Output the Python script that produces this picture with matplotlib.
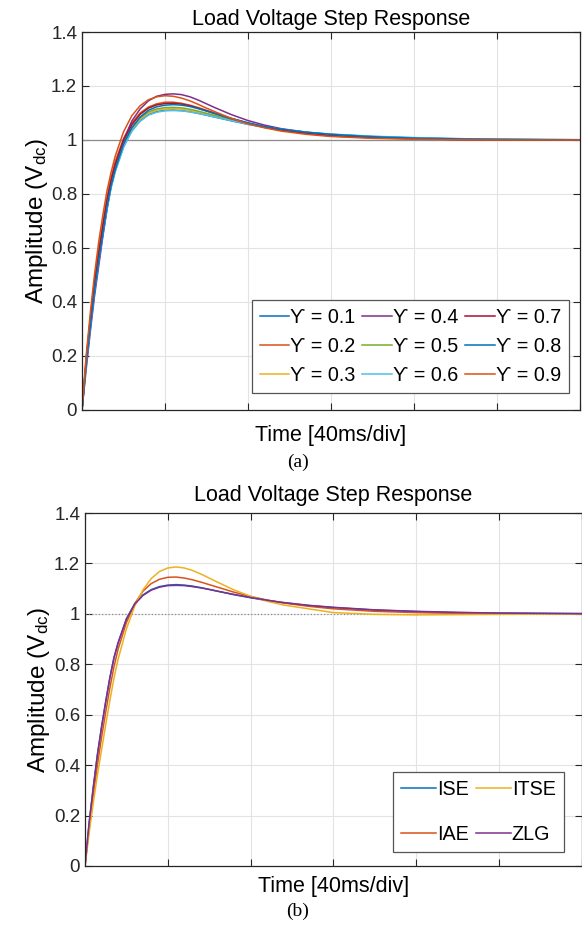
import numpy as np
import matplotlib
matplotlib.use("Agg")
import matplotlib.pyplot as plt

plt.rcParams['font.family'] = ['Liberation Sans', 'DejaVu Sans']
plt.rcParams['mathtext.fontset'] = 'custom'
plt.rcParams['mathtext.rm'] = 'Liberation Sans'
plt.rcParams['mathtext.it'] = 'Liberation Sans'

# time axis in divisions (40 ms/div)
t = [0, 0.05, 0.1, 0.15, 0.2, 0.25, 0.3, 0.35, 0.4, 0.5, 0.6, 0.7, 0.8, 0.9, 1.0,
     1.1, 1.2, 1.3, 1.4, 1.5, 1.6, 1.8, 2.0, 2.2, 2.4, 2.7, 3.0, 3.5, 4.0, 4.5, 5.0, 6.0]

# panel (a): sweep of the weighting factor
y01 = [0, 0.17, 0.31, 0.44, 0.55, 0.65, 0.745, 0.825, 0.885, 0.975, 1.035, 1.072, 1.094, 1.105, 1.11,
       1.111, 1.109, 1.105, 1.099, 1.092, 1.085, 1.071, 1.058, 1.047, 1.038, 1.028, 1.021, 1.013, 1.008, 1.005, 1.003, 1.001]
y02 = [0, 0.19, 0.34, 0.48, 0.59, 0.69, 0.785, 0.86, 0.92, 1.005, 1.062, 1.1, 1.122, 1.134, 1.14,
       1.14, 1.136, 1.129, 1.12, 1.11, 1.1, 1.08, 1.062, 1.047, 1.036, 1.024, 1.015, 1.008, 1.004, 1.002, 1.001, 1.0]
y03 = [0, 0.175, 0.315, 0.445, 0.555, 0.655, 0.75, 0.83, 0.89, 0.98, 1.04, 1.077, 1.099, 1.11, 1.115,
       1.116, 1.114, 1.109, 1.103, 1.096, 1.088, 1.073, 1.06, 1.048, 1.039, 1.028, 1.02, 1.012, 1.007, 1.004, 1.002, 1.0]
y04 = [0, 0.15, 0.29, 0.42, 0.53, 0.64, 0.74, 0.83, 0.9, 1.0, 1.07, 1.115, 1.145, 1.162, 1.169,
       1.171, 1.168, 1.16, 1.148, 1.134, 1.12, 1.094, 1.072, 1.055, 1.042, 1.029, 1.019, 1.01, 1.005, 1.002, 1.001, 1.0]
y05 = [0, 0.175, 0.32, 0.45, 0.56, 0.66, 0.755, 0.835, 0.895, 0.985, 1.045, 1.082, 1.104, 1.115, 1.12,
       1.121, 1.119, 1.114, 1.107, 1.099, 1.091, 1.075, 1.061, 1.049, 1.039, 1.028, 1.02, 1.012, 1.007, 1.004, 1.002, 1.0]
y06 = [0, 0.168, 0.308, 0.438, 0.548, 0.648, 0.742, 0.822, 0.882, 0.972, 1.032, 1.069, 1.092, 1.103, 1.108,
       1.109, 1.108, 1.104, 1.098, 1.092, 1.085, 1.072, 1.059, 1.048, 1.039, 1.029, 1.022, 1.014, 1.009, 1.005, 1.003, 1.001]
y07 = [0, 0.185, 0.335, 0.47, 0.58, 0.68, 0.775, 0.85, 0.91, 0.998, 1.056, 1.095, 1.118, 1.13, 1.135,
       1.136, 1.133, 1.127, 1.118, 1.108, 1.098, 1.079, 1.062, 1.048, 1.037, 1.025, 1.016, 1.009, 1.005, 1.002, 1.001, 1.0]
y08 = [0, 0.17, 0.31, 0.44, 0.55, 0.65, 0.75, 0.83, 0.89, 0.985, 1.045, 1.085, 1.11, 1.123, 1.129,
       1.131, 1.129, 1.124, 1.116, 1.107, 1.098, 1.08, 1.064, 1.05, 1.04, 1.029, 1.021, 1.012, 1.007, 1.004, 1.002, 1.0]
y09 = [0, 0.2, 0.36, 0.5, 0.62, 0.72, 0.81, 0.88, 0.94, 1.03, 1.09, 1.127, 1.149, 1.16, 1.164,
       1.162, 1.155, 1.145, 1.132, 1.118, 1.105, 1.08, 1.06, 1.045, 1.033, 1.021, 1.013, 1.006, 1.003, 1.001, 1.0, 1.0]
series_a = [y01, y02, y03, y04, y05, y06, y07, y08, y09]
labels_a = ['ϒ = 0.1', 'ϒ = 0.2', 'ϒ = 0.3', 'ϒ = 0.4', 'ϒ = 0.5',
            'ϒ = 0.6', 'ϒ = 0.7', 'ϒ = 0.8', 'ϒ = 0.9']

# panel (b): tuning criteria
ise = [0, 0.17, 0.31, 0.44, 0.55, 0.65, 0.745, 0.825, 0.885, 0.98, 1.04, 1.075, 1.096, 1.108, 1.114,
       1.116, 1.114, 1.11, 1.104, 1.097, 1.09, 1.076, 1.064, 1.053, 1.044, 1.033, 1.025, 1.015, 1.009, 1.005, 1.003, 1.001]
iae = [0, 0.15, 0.28, 0.4, 0.51, 0.61, 0.705, 0.79, 0.86, 0.965, 1.04, 1.09, 1.12, 1.137, 1.145,
       1.146, 1.142, 1.135, 1.126, 1.116, 1.106, 1.086, 1.069, 1.055, 1.043, 1.03, 1.02, 1.01, 1.005, 1.002, 1.001, 1.0]
itse = [0, 0.13, 0.25, 0.36, 0.46, 0.56, 0.655, 0.745, 0.82, 0.94, 1.03, 1.095, 1.14, 1.168, 1.182,
        1.186, 1.182, 1.172, 1.158, 1.142, 1.126, 1.095, 1.07, 1.05, 1.035, 1.02, 1.005, 0.998, 0.996, 0.997, 0.998, 1.0]
zlg = [0, 0.172, 0.312, 0.442, 0.552, 0.652, 0.746, 0.826, 0.885, 0.979, 1.038, 1.073, 1.094, 1.106, 1.112,
       1.113, 1.112, 1.108, 1.103, 1.097, 1.09, 1.077, 1.065, 1.054, 1.045, 1.034, 1.026, 1.016, 1.01, 1.006, 1.003, 1.001]
series_b = [ise, iae, itse, zlg]
labels_b = ['ISE', 'IAE', 'ITSE', 'ZLG']

yticks = [0, 0.2, 0.4, 0.6, 0.8, 1.0, 1.2, 1.4]
ytick_labels = ['0', '0.2', '0.4', '0.6', '0.8', '1', '1.2', '1.4']

mcol = ['#0072BD', '#D95319', '#EDB120', '#7E2F8E', '#77AC30', '#4DBEEE', '#A2142F']
cols_a = [mcol[i % 7] for i in range(9)]
cols_b = [mcol[0], mcol[1], mcol[2], mcol[3]]

fig = plt.figure(figsize=(5.82, 9.25), dpi=100)
ax1 = fig.add_axes([82/582, 1-410/925, 498/582, 378/925])
ax2 = fig.add_axes([85/582, 1-866/925, 496.5/582, 353/925])

def style(ax, ref_ls, tpad, xpad):
    ax.set_xlim(0, 6)
    ax.set_ylim(0, 1.4)
    ax.set_xticks(range(7))
    ax.set_xticklabels([])
    ax.set_yticks(yticks)
    ax.set_yticklabels(ytick_labels, fontsize=13.5, color='#262626')
    ax.tick_params(direction='in', length=5, top=True, right=True, color='#262626', width=0.8)
    ax.grid(True, color='#e3e3e3', lw=0.8)
    ax.set_axisbelow(True)
    for s in ax.spines.values():
        s.set_color('#262626')
        s.set_linewidth(0.9)
    ax.axhline(1.0, color='#8c8c8c', lw=0.9, ls=ref_ls, zorder=1.5)
    ax.set_title('Load Voltage Step Response', fontsize=15.5, pad=tpad)
    ax.set_xlabel('Time [40ms/div]', fontsize=15.5, labelpad=xpad)
    ax.set_ylabel(r'Amplitude (V$_{\mathrm{dc}}$)', fontsize=17.5, labelpad=1)

style(ax1, '-', 5, 7)
style(ax2, ':', 9, 4)

for y, c, lab in zip(series_a, cols_a, labels_a):
    ax1.plot(t, y, color=c, lw=1.1, label=lab)
for y, c, lab in zip(series_b, cols_b, labels_b):
    ax2.plot(t, y, color=c, lw=1.1, label=lab)

leg1 = ax1.legend(ncol=3, loc='lower right', bbox_to_anchor=(0.978, 0.045), borderaxespad=0,
                  fontsize=14.2, handlelength=1.5, handletextpad=0.05, columnspacing=0.35,
                  labelspacing=0.5, fancybox=False, framealpha=1, edgecolor='#555555')
leg1.get_frame().set_linewidth(0.9)
leg2 = ax2.legend(ncol=2, loc='lower right', bbox_to_anchor=(0.964, 0.04), borderaxespad=0,
                  fontsize=14.2, handlelength=1.75, handletextpad=0.05, columnspacing=0.4,
                  labelspacing=1.3, fancybox=False, framealpha=1, edgecolor='#555555')
leg2.get_frame().set_linewidth(0.9)

fig.text(298/582, 1-462/925, '(a)', ha='center', va='center', fontsize=14, family='Liberation Serif')
fig.text(298/582, 1-911/925, '(b)', ha='center', va='center', fontsize=14, family='Liberation Serif')

fig.savefig('out.png', dpi=100)
